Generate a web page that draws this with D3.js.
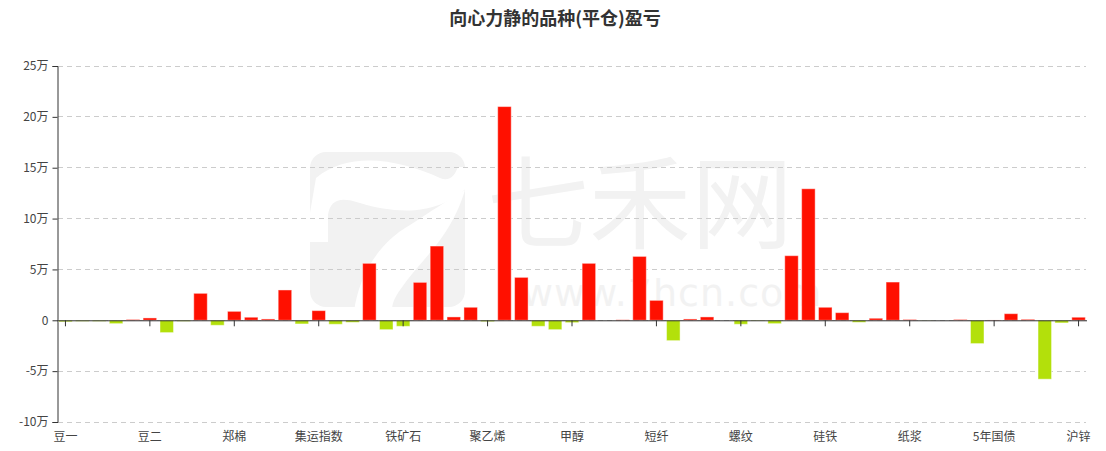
<!DOCTYPE html>
<html><head><meta charset="utf-8">
<script src="https://cdn.jsdelivr.net/npm/d3@7"></script>
<style>body{margin:0;background:#fff}svg{display:block}</style>
</head><body>
<script>
const categories = ["豆一","豆粕","豆油","棕榈油","玉米","豆二","玉米淀粉","鸡蛋","生猪","苹果",
"郑棉","白糖","菜粕","菜油","红枣","集运指数","焦炭","焦煤","动力煤","不锈钢",
"铁矿石","聚丙烯","PVC","乙二醇","苯乙烯","聚乙烯","纯碱","玻璃","尿素","PTA",
"甲醇","液化气","原油","燃料油","沥青","短纤","橡胶","20号胶","热卷","线材",
"螺纹","沪铜","沪铝","沪镍","沪锡","硅铁","锰硅","工业硅","碳酸锂","氧化铝",
"纸浆","沪金","沪银","2年国债","10年国债","5年国债","沪深300","中证500","上证50","中证1000","沪锌"];
const values = [-1500,-1000,-1000,-3300,800,2300,-12100,-1000,26500,-4900,
8800,3000,1300,29800,-3600,9500,-3900,-2000,56000,-9200,
-5900,37300,73000,3300,12800,-1300,210100,42200,-5900,-9200,
-2300,56000,0,500,62800,19600,-20000,1300,3300,0,
-3900,-500,-3300,63500,129300,12800,7500,-2000,2000,37600,
800,-200,0,800,-22900,300,6500,1000,-57900,-2600,3000];
const yTicks = [-100000,-50000,0,50000,100000,150000,200000,250000];
const title = "向心力静的品种(平仓)盈亏";

const W = 1106, H = 451;
const FONT = "'Noto Sans CJK SC','Noto Sans',sans-serif";
const svg = d3.select("body").append("svg").attr("width",W).attr("height",H);

// watermark
const wm = svg.append("g").attr("fill","#f2f2f2");
wm.append("rect").attr("x",310).attr("y",152).attr("width",155).attr("height",155).attr("rx",16);
const wmw = svg.append("g").attr("fill","#fff");
wmw.append("path").attr("d","M316,178 C350,150 400,160 440,178 C450,182 455,175 458,167 L470,167 L470,185 C440,215 400,215 360,203 C340,196 330,200 328,215 L328,242 L305,242 Z");
wmw.append("path").attr("d","M465,190 C450,240 420,260 400,290 C393,300 392,305 392,312 L354,312 C358,280 375,245 410,225 C430,212 448,200 465,190 Z");
svg.append("text").attr("x",487).attr("y",241).attr("font-family",FONT).attr("font-size",102)
  .attr("fill","#f2f2f2").text("七禾网");
svg.append("text").attr("x",522).attr("y",306).attr("font-family","'DejaVu Sans',sans-serif")
  .attr("font-size",38).attr("letter-spacing",1).attr("fill","#f2f2f2").text("www.7hcn.com");

const x = d3.scaleBand().domain(categories).range([57,1087]).paddingInner(0.2).paddingOuter(0.1);
const y = d3.scaleLinear().domain([-100000,250000]).range([422,66]);
const fmt = v => v === 0 ? "0" : (v/10000) + "万";

// grid
svg.append("g").selectAll("line").data(yTicks).join("line")
  .attr("x1",58).attr("x2",1086).attr("y1",d=>y(d)).attr("y2",d=>y(d))
  .attr("stroke","#ccc").attr("stroke-dasharray","5,4").attr("stroke-width",1)
  .attr("shape-rendering","crispEdges");

// y axis
const ya = svg.append("g").attr("transform","translate(57.5,0)")
  .call(d3.axisLeft(y).tickValues(yTicks).tickFormat(fmt).tickSize(5).tickPadding(4));
ya.select(".domain").attr("stroke","#333");
ya.selectAll(".tick line").attr("stroke","#333");
ya.selectAll("text").attr("font-family",FONT).attr("font-size",12).attr("fill","#444");

// bars
svg.append("g").selectAll("rect").data(values).join("rect")
  .attr("x",(d,i)=>x(categories[i]))
  .attr("width",x.bandwidth())
  .attr("y",d=>y(Math.max(0,d)))
  .attr("height",d=>Math.abs(y(d)-y(0)))
  .attr("fill",d=>d>=0?"#ff1000":"#b3e00b")
  .attr("stroke","rgba(255,255,255,0.45)").attr("stroke-width",1);

// x axis at zero
const xa = svg.append("g").attr("transform",`translate(0,${y(0)})`)
  .call(d3.axisBottom(x).tickValues(categories.filter((c,i)=>i%5===0)).tickSize(6).tickFormat(""));
xa.select(".domain").attr("stroke","#333").attr("d","M57,0.5H1087");
xa.selectAll(".tick line").attr("stroke","#333");

// x labels at bottom
svg.append("g").selectAll("text").data(categories.filter((c,i)=>i%5===0)).join("text")
  .attr("x",d=>x(d)+x.bandwidth()/2).attr("y",441)
  .attr("text-anchor","middle").attr("font-family",FONT).attr("font-size",12).attr("fill","#444")
  .text(d=>d);

// title
svg.append("text").attr("x",555).attr("y",25).attr("text-anchor","middle")
  .attr("font-family",FONT).attr("font-size",18).attr("font-weight","bold").attr("fill","#333")
  .text(title);
</script>
</body></html>
